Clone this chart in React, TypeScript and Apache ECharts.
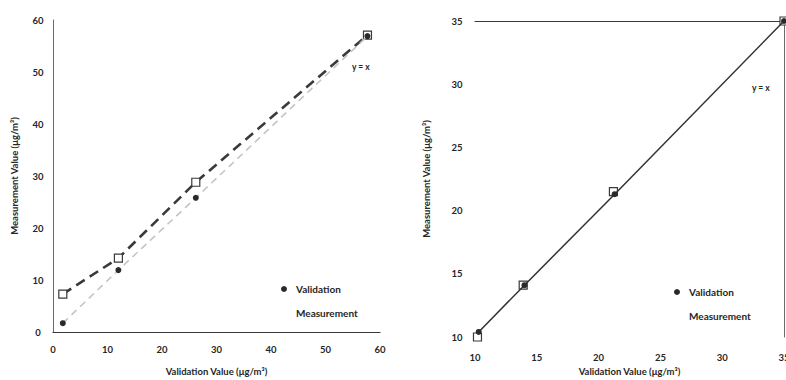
import React, { useEffect, useRef } from "react";
import * as echarts from "echarts";

// Left panel: full range comparison
const leftValidation: [number, number][] = [
  [1.8, 1.7],
  [12.0, 11.9],
  [26.2, 25.8],
  [57.7, 56.9],
];
const leftMeasurement: [number, number][] = [
  [1.8, 7.3],
  [12.0, 14.2],
  [26.2, 28.8],
  [57.7, 57.1],
];
const leftTicks = { min: 0, max: 60, interval: 10 };

// Right panel: zoomed range comparison
const rightValidation: [number, number][] = [
  [10.3, 10.4],
  [14.0, 14.1],
  [21.3, 21.3],
  [35.0, 35.0],
];
const rightMeasurement: [number, number][] = [
  [10.2, 10.0],
  [13.9, 14.1],
  [21.2, 21.5],
  [35.0, 35.0],
];
const rightTicks = { min: 10, max: 35, interval: 5 };

const xTitle = "Validation Value (μg/m³)";
const yTitle = "Measurement Value (μg/m³)";
const seriesNames = ["Validation", "Measurement"];

const FONT = "Lato, 'Open Sans', sans-serif";
const TEXT = "#262626";

export default function App() {
  const ref = useRef<HTMLDivElement>(null);

  useEffect(() => {
    document.body.style.margin = "0";
    document.body.style.overflow = "hidden";
    if (!ref.current) return;
    const chart = echarts.init(ref.current, undefined, { renderer: "svg" });

    const labelStyle = {
      fontFamily: FONT,
      fontWeight: "bold" as const,
      fontSize: 9.5,
      color: TEXT,
    };

    const mainX = (grid: number, t: any, margin: number, gap: number) => ({
      type: "value",
      gridIndex: grid,
      min: t.min,
      max: t.max,
      interval: t.interval,
      name: xTitle,
      nameLocation: "middle",
      nameGap: gap,
      nameTextStyle: { ...labelStyle },
      axisLine: { show: false },
      axisTick: { show: false },
      splitLine: { show: false },
      axisLabel: { ...labelStyle, margin },
    });
    const mainY = (grid: number, t: any, margin: number, gap: number) => ({
      type: "value",
      gridIndex: grid,
      min: t.min,
      max: t.max,
      interval: t.interval,
      name: yTitle,
      nameLocation: "middle",
      nameRotate: 90,
      nameGap: gap,
      nameTextStyle: { ...labelStyle },
      axisLine: { show: false },
      axisTick: { show: false },
      splitLine: { show: false },
      axisLabel: { ...labelStyle, margin, align: "center" },
    });
    const frameX = (grid: number, t: any) => ({
      type: "value",
      gridIndex: grid,
      position: "top",
      min: t.min,
      max: t.max,
      axisLine: { show: true, lineStyle: { color: "#3a3a3a", width: 1.2 } },
      axisTick: { show: false },
      axisLabel: { show: false },
      splitLine: { show: false },
    });
    const frameY = (grid: number, t: any) => ({
      type: "value",
      gridIndex: grid,
      position: "right",
      min: t.min,
      max: t.max,
      axisLine: { show: true, lineStyle: { color: "#6a6a6a", width: 1 } },
      axisTick: { show: false },
      axisLabel: { show: false },
      splitLine: { show: false },
    });

    const legendText = { ...labelStyle, fontSize: 10, padding: [0, 0, 0, 4] };
    const legendData = [
      { name: "Validation", icon: "circle" },
      { name: "Measurement", icon: "rect", itemStyle: { opacity: 0 } },
    ];

    const openSquare = {
      symbol: "rect",
      symbolSize: 8,
      itemStyle: { color: "#ffffff", borderColor: "#3a3a3a", borderWidth: 1.2 },
    };
    const dot = {
      symbol: "circle",
      symbolSize: 6,
      itemStyle: { color: "#2a2a2a" },
    };

    const note = (x: number, y: number) => ({
      type: "text",
      x,
      y,
      style: {
        text: "y = x",
        fill: TEXT,
        font: `bold 8.5px ${FONT}`,
      },
    });

    chart.setOption({
      animation: false,
      backgroundColor: "#ffffff",
      grid: [
        { left: 53, right: 406, top: 20, bottom: 48, outerBoundsMode: "none" },
        { left: 475, right: 2, top: 21, bottom: 43, outerBoundsMode: "none" },
      ],
      xAxis: [
        mainX(0, leftTicks, 12, 34),
        mainX(1, rightTicks, 15, 29),
        frameX(0, leftTicks),
        frameX(1, rightTicks),
      ],
      yAxis: [
        mainY(0, leftTicks, 15, 34),
        mainY(1, rightTicks, 18, 44),
        frameY(0, leftTicks),
        frameY(1, rightTicks),
      ],
      legend: [
        {
          orient: "vertical",
          left: 275,
          top: 279,
          itemWidth: 6,
          itemHeight: 6,
          itemGap: 14,
          textStyle: legendText,
          data: legendData,
        },
        {
          orient: "vertical",
          left: 668,
          top: 282,
          itemWidth: 6,
          itemHeight: 6,
          itemGap: 14,
          textStyle: legendText,
          data: legendData,
        },
      ],
      series: [
        {
          name: seriesNames[1],
          type: "line",
          xAxisIndex: 0,
          yAxisIndex: 0,
          data: leftMeasurement,
          lineStyle: { color: "#3a3a3a", width: 2.6, type: [10, 6] },
          ...openSquare,
          z: 3,
        },
        {
          name: seriesNames[0],
          type: "line",
          xAxisIndex: 0,
          yAxisIndex: 0,
          data: leftValidation,
          lineStyle: { color: "#c4c4c4", width: 1.6, type: [7, 5] },
          ...dot,
          z: 4,
        },
        {
          name: seriesNames[1],
          type: "line",
          xAxisIndex: 1,
          yAxisIndex: 1,
          data: rightMeasurement,
          lineStyle: { width: 0 },
          ...openSquare,
          z: 3,
        },
        {
          name: seriesNames[0],
          type: "line",
          xAxisIndex: 1,
          yAxisIndex: 1,
          data: rightValidation,
          lineStyle: { color: "#333333", width: 1.5 },
          ...dot,
          z: 4,
        },
      ],
      graphic: [note(352, 62), note(752, 83)],
    });

    return () => chart.dispose();
  }, []);

  return (
    <div
      ref={ref}
      style={{ position: "fixed", left: 0, top: 0, width: 786, height: 380 }}
    />
  );
}
